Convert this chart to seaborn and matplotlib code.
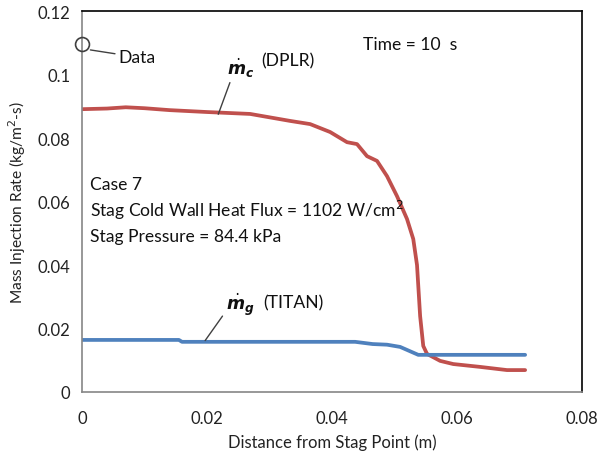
import matplotlib
matplotlib.use("Agg")
import matplotlib.pyplot as plt
import seaborn as sns
import pandas as pd
from matplotlib.ticker import FuncFormatter

# --- data ---
dplr_x = [0.0, 0.004, 0.007, 0.010, 0.014, 0.020, 0.0269, 0.0333, 0.0365, 0.0397,
          0.0424, 0.0440, 0.0456, 0.0472, 0.0488, 0.0504, 0.0520, 0.0530, 0.0536,
          0.0541, 0.0546, 0.0552, 0.0573, 0.0594, 0.0637, 0.0680, 0.0709]
dplr_y = [0.0891, 0.0893, 0.0897, 0.0894, 0.0888, 0.0882, 0.0876, 0.0854, 0.0844, 0.0819,
          0.0787, 0.0781, 0.0743, 0.0728, 0.0680, 0.0617, 0.0545, 0.0482, 0.0400,
          0.0239, 0.0145, 0.0120, 0.0098, 0.0088, 0.0079, 0.0069, 0.0069]
titan_x = [0.0, 0.0155, 0.0160, 0.0437, 0.0465, 0.0488, 0.0509, 0.0538, 0.0709]
titan_y = [0.0164, 0.0164, 0.0158, 0.0158, 0.0151, 0.0149, 0.0142, 0.0117, 0.0117]
data_x = [0.0]
data_y = [0.1096]

x_ticks = [0, 0.02, 0.04, 0.06, 0.08]
y_ticks = [0, 0.02, 0.04, 0.06, 0.08, 0.1, 0.12]

df = pd.concat([
    pd.DataFrame({"x": dplr_x, "y": dplr_y, "series": "DPLR"}),
    pd.DataFrame({"x": titan_x, "y": titan_y, "series": "TITAN"}),
])

sns.set_style("white")
plt.rcParams["font.family"] = ["Lato", "DejaVu Sans"]
plt.rcParams["mathtext.fontset"] = "dejavusans"

fig = plt.figure(figsize=(6, 4.6), dpi=100)
ax = fig.add_axes([0.1367, 0.1457, 0.8333, 0.828])

sns.lineplot(data=df, x="x", y="y", hue="series", palette={"DPLR": "#C0504D", "TITAN": "#4F81BD"},
             linewidth=2.7, legend=False, ax=ax, sort=False)
ax.plot(data_x, data_y, marker="o", markersize=10, markerfacecolor="none",
        markeredgecolor="#404040", markeredgewidth=1.2, linestyle="none", clip_on=False, zorder=5)

ax.set_xlim(0, 0.08)
ax.set_ylim(0, 0.12)
ax.set_xticks(x_ticks)
ax.set_yticks(y_ticks)
fmt = FuncFormatter(lambda v, p: "0" if v == 0 else ("%g" % round(v, 4)))
ax.xaxis.set_major_formatter(fmt)
ax.yaxis.set_major_formatter(fmt)
ax.tick_params(axis="both", direction="out", length=5, width=1, color="#868686",
               labelsize=12, labelcolor="#222222")
ax.tick_params(axis="x", pad=8)
for s in ["left", "bottom"]:
    ax.spines[s].set_color("#868686")
    ax.spines[s].set_linewidth(1.2)
for s in ["top", "right"]:
    ax.spines[s].set_color("black")
    ax.spines[s].set_linewidth(1.2)

ax.set_xlabel("Distance from Stag Point (m)", fontsize=12, color="#222222", labelpad=5)
ax.set_ylabel("Mass Injection Rate (kg/m$^{2}$-s)", fontsize=11.2, color="#222222", labelpad=7)

tc = "#111111"
fs = 12.6
ax.annotate("Data", xy=(0.0009, 0.1079), xytext=(0.0058, 0.1055), fontsize=fs, color=tc,
            va="center", ha="left",
            arrowprops=dict(arrowstyle="-", color="#404040", lw=1, shrinkA=0, shrinkB=2))
ax.annotate(r"$\dot{\mathbfit{m}}_{\mathbfit{c}}$", xy=(0.0218, 0.0875), xytext=(0.0232, 0.0985),
            fontsize=12.5, color=tc, va="bottom", ha="left",
            arrowprops=dict(arrowstyle="-", color="#404040", lw=1, shrinkA=0, shrinkB=0,
                            relpos=(0.15, 0.0)))
ax.text(0.0287, 0.1045, "(DPLR)", fontsize=fs, color=tc, va="center", ha="left")
ax.annotate(r"$\dot{\mathbfit{m}}_{\mathbfit{g}}$", xy=(0.0197, 0.0162), xytext=(0.0230, 0.0235),
            fontsize=12.5, color=tc, va="bottom", ha="left",
            arrowprops=dict(arrowstyle="-", color="#404040", lw=1, shrinkA=0, shrinkB=0,
                            relpos=(0.05, 0.3)))
ax.text(0.0290, 0.0282, "(TITAN)", fontsize=fs, color=tc, va="center", ha="left")
ax.text(0.0450, 0.1095, "Time = 10  s", fontsize=fs, color=tc, va="center", ha="left")
ax.text(0.0013, 0.0655, "Case 7", fontsize=fs, color=tc, va="center", ha="left")
ax.text(0.0013, 0.0575, "Stag Cold Wall Heat Flux = 1102 W/cm$^{2}$", fontsize=fs, color=tc,
        va="center", ha="left")
ax.text(0.0013, 0.0492, "Stag Pressure = 84.4 kPa", fontsize=fs, color=tc, va="center", ha="left")

fig.savefig("out.png", dpi=100)
